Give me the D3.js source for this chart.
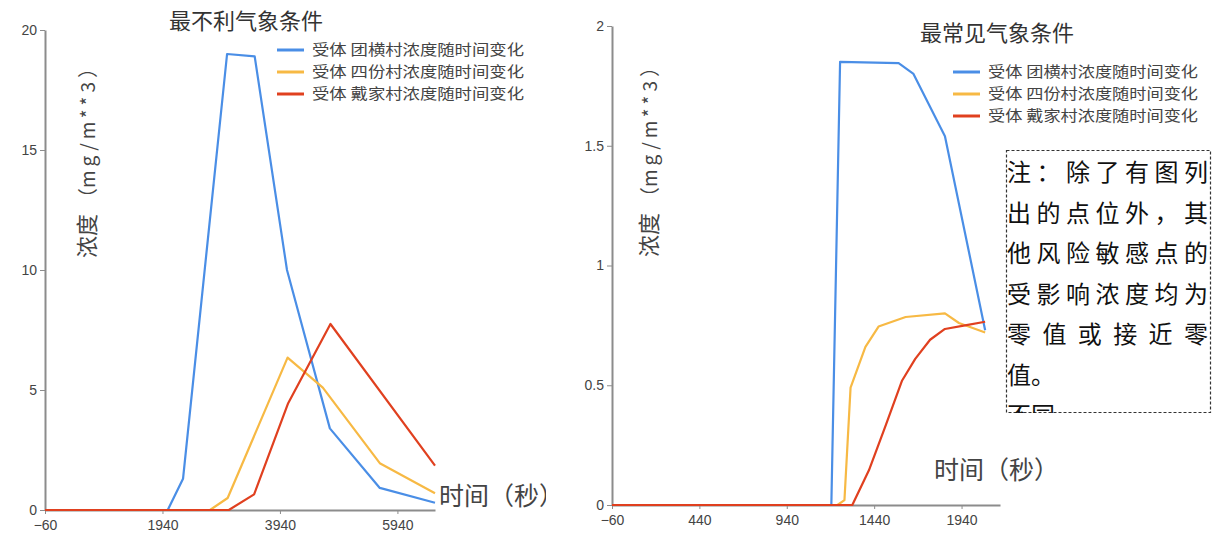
<!DOCTYPE html>
<html>
<head>
<meta charset="utf-8">
<title>敏感点浓度随时间变化</title>
<style>
  body { margin: 0; background: #fff; }
  svg { display: block; font-family: "Noto Sans CJK SC", "Noto Sans", sans-serif; }
  .axis path, .axis line { stroke: #8c8c8c; }
  .axis path { stroke-width: 2; }
  .axis line { stroke-width: 1; }
  .axis text { fill: #444; font-size: 14px; font-family: "Liberation Sans", Arial, sans-serif; }
</style>
</head>
<body>
<script src="https://d3js.org/d3.v7.min.js"></script>
<script>
// series names (legend)
const seriesNames = ["受体 团横村浓度随时间变化", "受体 四份村浓度随时间变化", "受体 戴家村浓度随时间变化"];
const seriesColors = ["#4a8ee6", "#f7b944", "#e0401f"];

// 最不利气象条件: [time (s), concentration (mg/m**3)]
const worstTuanheng = [[-60, 0], [2030, 0], [2290, 1.3], [3040, 19.0], [3510, 18.9], [4060, 10.0], [4790, 3.4], [5640, 0.92], [6580, 0.3]];
const worstSifen    = [[-60, 0], [2750, 0], [3050, 0.5], [4070, 6.35], [4670, 5.1], [5640, 1.95], [6580, 0.7]];
const worstDaijia   = [[-60, 0], [3070, 0], [3500, 0.65], [4080, 4.45], [4800, 7.75], [6580, 1.85]];
const worstXTicks = [-60, 1940, 3940, 5940];
const worstYTicks = [0, 5, 10, 15, 20];

// 最常见气象条件
const commonTuanheng = [[-60, 0], [1195, 0], [1245, 1.85], [1580, 1.845], [1665, 1.8], [1845, 1.54], [2075, 0.73]];
const commonSifen    = [[-60, 0], [1230, 0], [1270, 0.02], [1305, 0.49], [1390, 0.66], [1465, 0.745], [1620, 0.785], [1845, 0.8], [1925, 0.76], [2075, 0.72]];
const commonDaijia   = [[-60, 0], [1315, 0], [1410, 0.145], [1505, 0.33], [1600, 0.52], [1675, 0.61], [1760, 0.69], [1845, 0.735], [1960, 0.75], [2075, 0.765]];
const commonXTicks = [-60, 440, 940, 1440, 1940];
const commonYTicks = [0, 0.5, 1, 1.5, 2];

const noteLines = ["注：除了有图列", "出的点位外，其", "他风险敏感点的", "受影响浓度均为", "零值或接近零", "值。", "不同"];

var svg = d3.select("body").append("svg")
    .attr("width", 1216)
    .attr("height", 536);

var defs = svg.append("defs");
defs.append("clipPath").attr("id", "clipLeft")
  .append("rect").attr("x", 0).attr("y", 0).attr("width", 546).attr("height", 536);
defs.append("clipPath").attr("id", "clipNote")
  .append("rect").attr("x", 1000).attr("y", 145).attr("width", 216).attr("height", 268);

function drawPanel(g, opt) {
    var x = d3.scaleLinear().domain(opt.xDomain).range(opt.xRange);
    var y = d3.scaleLinear().domain(opt.yDomain).range(opt.yRange);

    g.append("g")
        .attr("class", "axis")
        .attr("transform", "translate(0," + opt.yRange[0] + ")")
        .call(d3.axisBottom(x).tickValues(opt.xTicks).tickSize(4).tickSizeOuter(0).tickFormat(d3.format("d")))
        .selectAll("text").attr("dy", "0.95em");

    g.append("g")
        .attr("class", "axis")
        .attr("transform", "translate(" + opt.xRange[0] + ",0)")
        .call(d3.axisLeft(y).tickValues(opt.yTicks).tickSize(5).tickSizeOuter(0).tickFormat(d => d));

    var line = d3.line().x(d => x(d[0])).y(d => y(d[1]));

    g.selectAll(".series")
        .data(opt.series)
        .enter()
        .append("path")
        .attr("d", d => line(d))
        .attr("fill", "none")
        .attr("stroke", (d, i) => seriesColors[i])
        .attr("stroke-width", 2.2)
        .attr("stroke-linejoin", "round");

    // title
    g.append("text")
        .attr("x", opt.titleX).attr("y", opt.titleY)
        .attr("text-anchor", "middle")
        .style("font-size", "22px")
        .style("fill", "#333")
        .text(opt.title);

    // legend
    var lg = g.selectAll(".lg")
        .data(seriesNames)
        .enter()
        .append("g")
        .attr("transform", (d, i) => "translate(" + opt.legX + "," + (opt.legY + i * opt.legStep) + ")");
    lg.append("line")
        .attr("x1", 0).attr("x2", 27)
        .attr("stroke", (d, i) => seriesColors[i])
        .attr("stroke-width", 3);
    lg.append("text")
        .attr("x", 35).attr("dy", "0.35em")
        .style("font-size", "15px").style("fill", "#444")
        .attr("textLength", opt.legLen)
        .attr("lengthAdjust", "spacingAndGlyphs")
        .text(d => d);

    // y label
    var yl = g.append("text")
        .attr("transform", "translate(" + opt.yLabX + "," + opt.yLabY + ") rotate(-90)")
        .style("fill", "#444");
    yl.append("tspan").style("font-size", "22px").text("浓度");
    yl.append("tspan").style("font-size", "20px").attr("dx", 6).text("（");
    yl.append("tspan").style("font-size", "19px").style("letter-spacing", "4px").text("mg/m**3");
    yl.append("tspan").style("font-size", "20px").text("）");

    // x label
    g.append("text")
        .attr("x", opt.xLabX).attr("y", opt.xLabY)
        .style("font-size", "25px").style("fill", "#444")
        .text("时间（秒）");
}

drawPanel(svg.append("g").attr("clip-path", "url(#clipLeft)"), {
    xDomain: [-60, 6580], xRange: [45, 435],
    yDomain: [0, 20], yRange: [510, 30],
    xTicks: worstXTicks, yTicks: worstYTicks,
    series: [worstTuanheng, worstSifen, worstDaijia],
    title: "最不利气象条件", titleX: 246, titleY: 29,
    legX: 277, legY: 50, legStep: 22, legLen: 212,
    yLabX: 95, yLabY: 258,
    xLabX: 439, xLabY: 505
});

drawPanel(svg.append("g"), {
    xDomain: [-60, 2160], xRange: [612, 1000],
    yDomain: [0, 2], yRange: [505, 26],
    xTicks: commonXTicks, yTicks: commonYTicks,
    series: [commonTuanheng, commonSifen, commonDaijia],
    title: "最常见气象条件", titleX: 997, titleY: 41,
    legX: 953, legY: 72, legStep: 22, legLen: 210,
    yLabX: 657, yLabY: 257,
    xLabX: 934, xLabY: 479
});

// note box
var note = svg.append("g");
note.append("rect")
    .attr("x", 1006.5).attr("y", 150.5)
    .attr("width", 204).attr("height", 262)
    .attr("fill", "#fff")
    .attr("stroke", "#333").attr("stroke-width", 1.2)
    .attr("stroke-dasharray", "3,2");
note.append("g").attr("clip-path", "url(#clipNote)")
    .selectAll("text")
    .data(noteLines)
    .enter()
    .append("text")
    .attr("x", 1007)
    .attr("y", (d, i) => 181 + i * 40.5)
    .style("font-size", "24px").style("fill", "#111")
    .attr("textLength", d => d.length >= 6 ? 201 : null)
    .attr("lengthAdjust", "spacing")
    .text(d => d);
</script>
</body>
</html>
